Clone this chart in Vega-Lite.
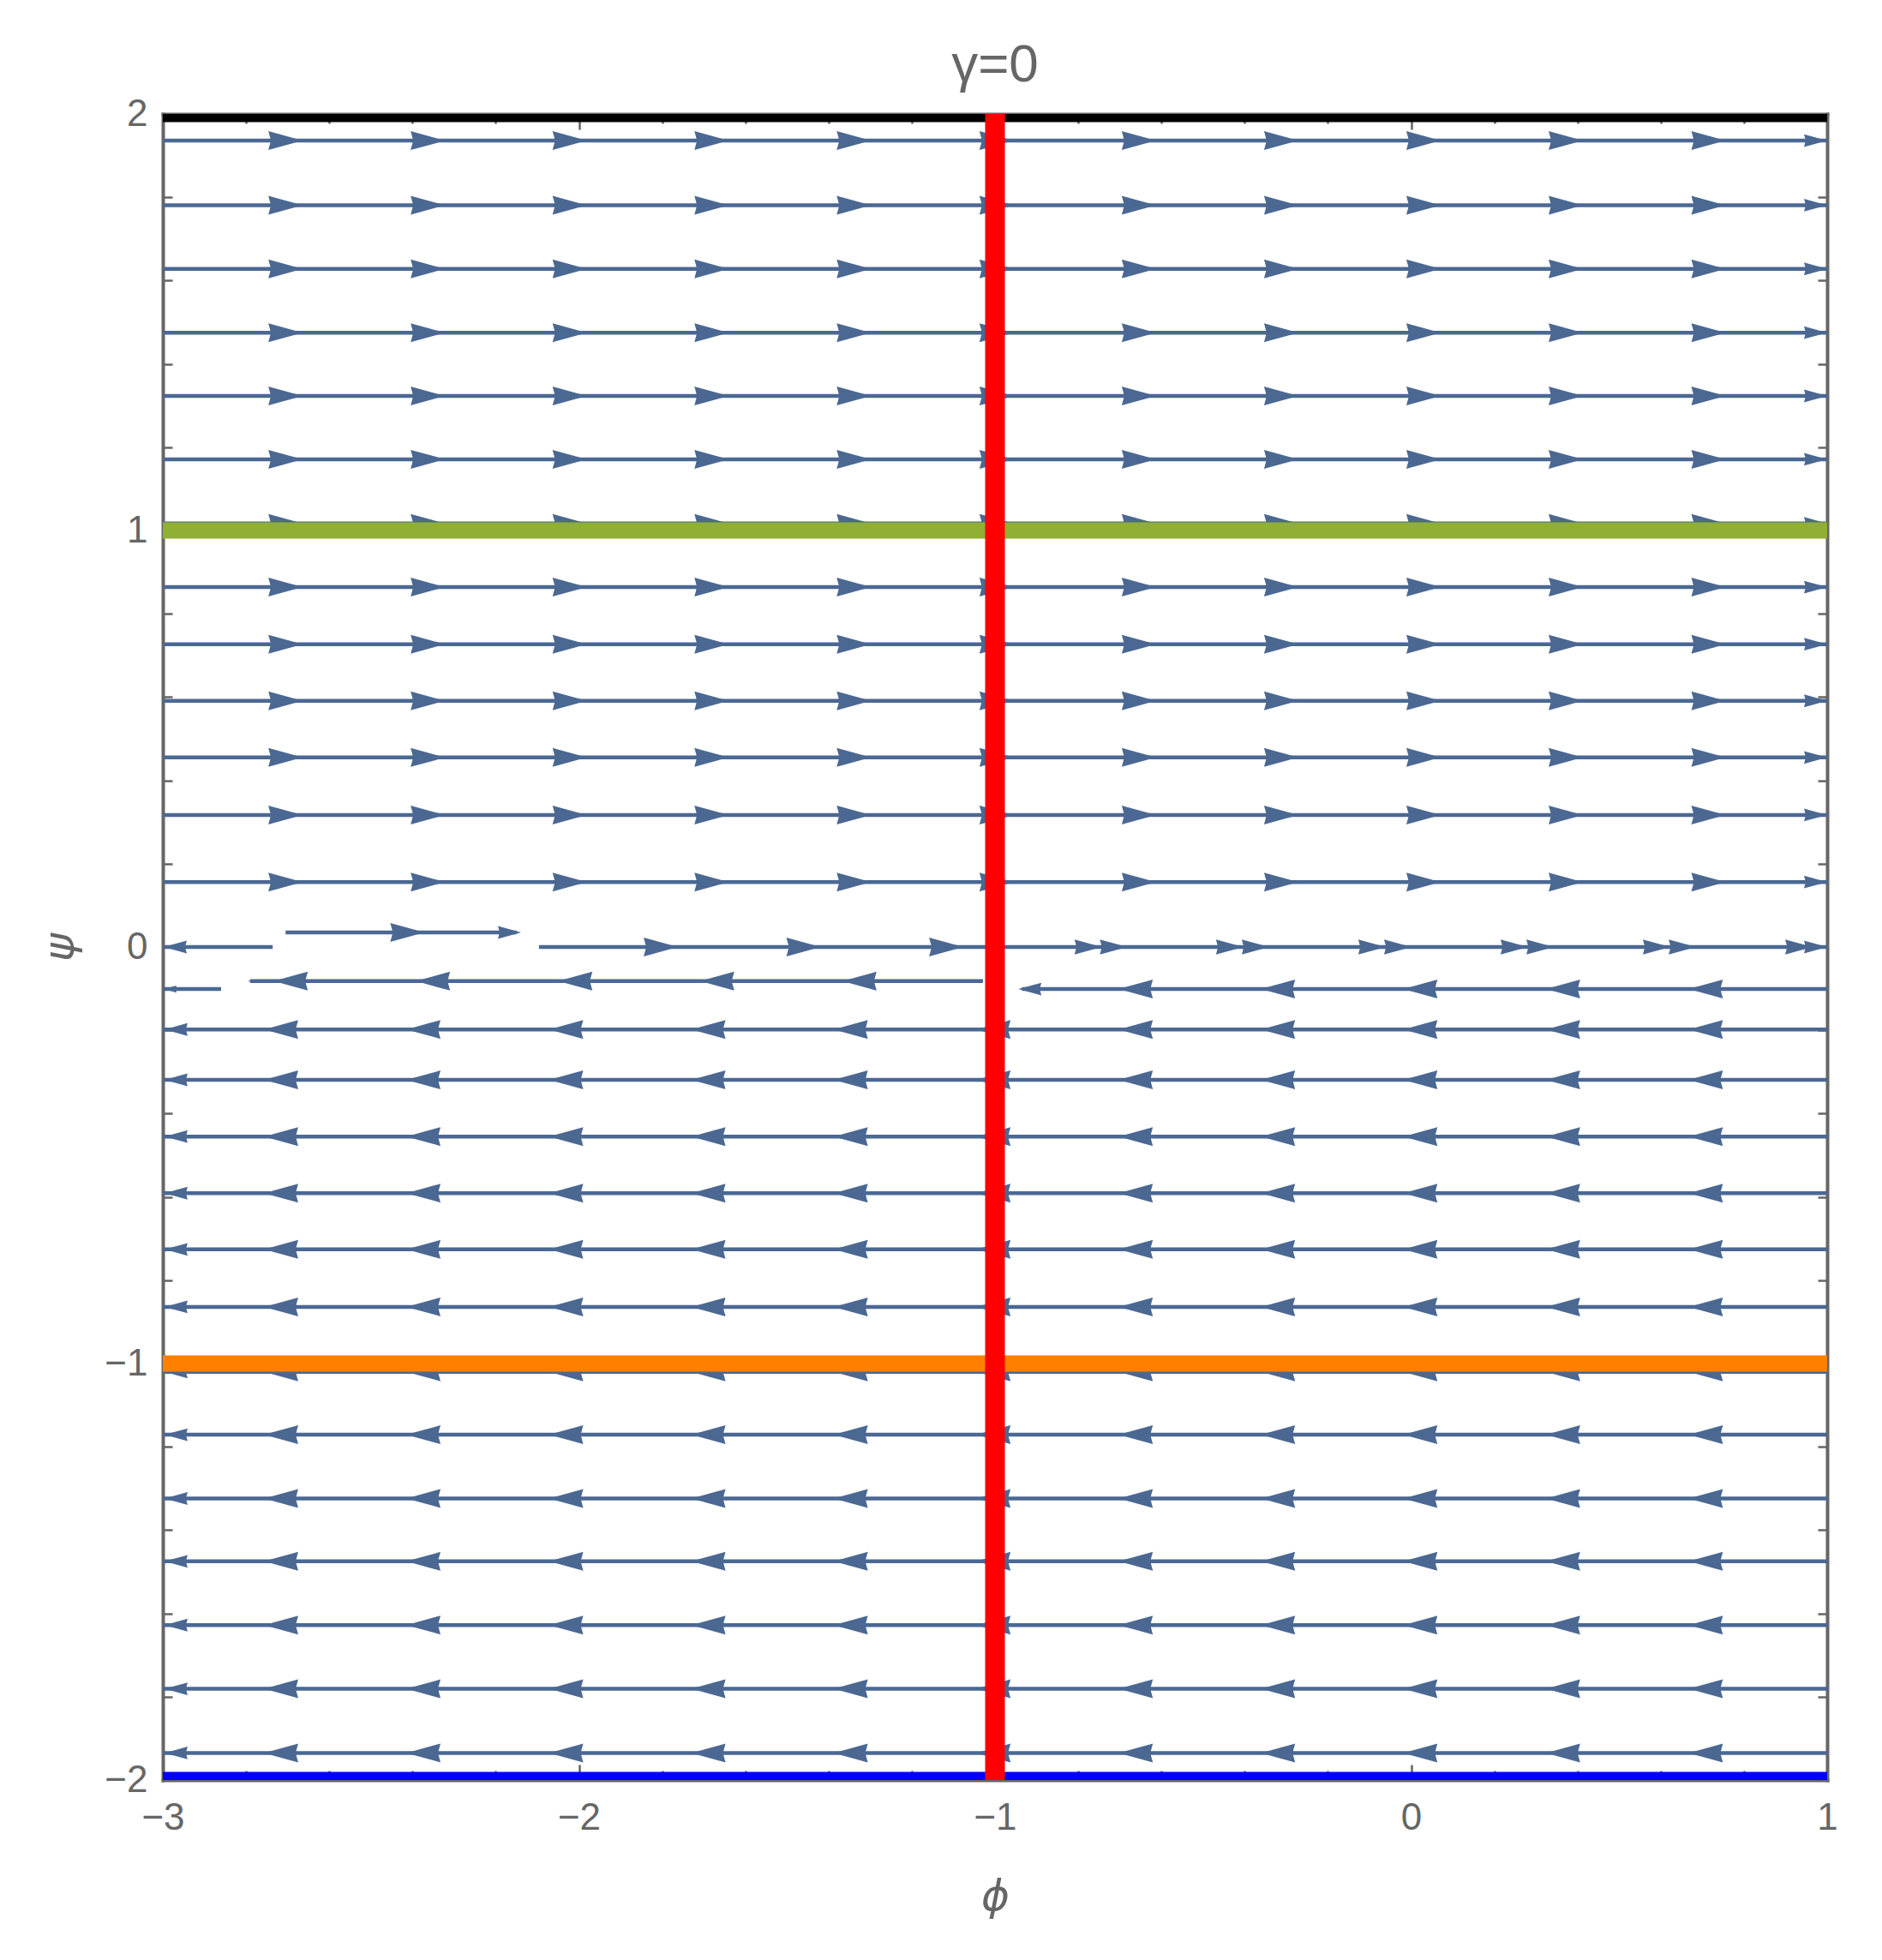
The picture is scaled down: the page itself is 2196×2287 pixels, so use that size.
{
"$schema":"https://vega.github.io/schema/vega-lite/v6.json",
"autosize":"none",
"width":1942,"height":1944,
"padding":{"left":190,"top":133,"right":64,"bottom":210},
"background":"white",
"config":{"view":{"stroke":null},
 "axis":{"domainColor":"#666","domainWidth":4,"domainCap":"square","tickColor":"#666","tickWidth":2.5,"labelFont":"Liberation Sans","labelFontSize":44,"labelColor":"#666","grid":false,"zindex":1,"labelFlush":false,"labelOverlap":false,"titleFont":"DejaVu Sans","titleFontStyle":"italic","titleFontWeight":"normal","titleFontSize":50,"titleColor":"#666"}},
"title":{"text":"γ=0","font":"Liberation Sans","fontSize":62,"color":"#666","fontWeight":"normal","anchor":"middle","baseline":"alphabetic","offset":30,"dy":76},
"datasets":{
"streams":[
{"psi":1.936,"a":-3,"b":1},{"psi":1.781,"a":-3,"b":1},{"psi":1.628,"a":-3,"b":1},{"psi":1.475,"a":-3,"b":1},{"psi":1.323,"a":-3,"b":1},{"psi":1.171,"a":-3,"b":1},{"psi":1.017,"a":-3,"b":1},{"psi":0.864,"a":-3,"b":1},{"psi":0.727,"a":-3,"b":1},{"psi":0.591,"a":-3,"b":1},{"psi":0.455,"a":-3,"b":1},{"psi":0.317,"a":-3,"b":1},{"psi":0.156,"a":-3,"b":1},
{"psi":0.035,"a":-2.705,"b":-2.15},{"psi":0,"a":-2.998,"b":-2.736},{"psi":0,"a":-2.096,"b":1},{"psi":-0.082,"a":-2.79,"b":-1.029},{"psi":-0.101,"a":-2.998,"b":-2.86},{"psi":-0.101,"a":-0.935,"b":1},
{"psi":-0.198,"a":-3,"b":1},{"psi":-0.319,"a":-3,"b":1},{"psi":-0.455,"a":-3,"b":1},{"psi":-0.591,"a":-3,"b":1},{"psi":-0.726,"a":-3,"b":1},{"psi":-0.864,"a":-3,"b":1},{"psi":-1.02,"a":-3,"b":1},{"psi":-1.171,"a":-3,"b":1},{"psi":-1.324,"a":-3,"b":1},{"psi":-1.475,"a":-3,"b":1},{"psi":-1.628,"a":-3,"b":1},{"psi":-1.781,"a":-3,"b":1},{"psi":-1.935,"a":-3,"b":1}
],
"headsRB":[
{"psi":1.936,"phi":-2.664},{"psi":1.936,"phi":-2.322},{"psi":1.936,"phi":-1.981},{"psi":1.936,"phi":-1.64},{"psi":1.936,"phi":-1.298},{"psi":1.936,"phi":-0.955},{"psi":1.936,"phi":-0.613},{"psi":1.936,"phi":-0.271},{"psi":1.936,"phi":0.071},{"psi":1.936,"phi":0.413},{"psi":1.936,"phi":0.756},
{"psi":1.781,"phi":-2.664},{"psi":1.781,"phi":-2.322},{"psi":1.781,"phi":-1.981},{"psi":1.781,"phi":-1.64},{"psi":1.781,"phi":-1.298},{"psi":1.781,"phi":-0.955},{"psi":1.781,"phi":-0.613},{"psi":1.781,"phi":-0.271},{"psi":1.781,"phi":0.071},{"psi":1.781,"phi":0.413},{"psi":1.781,"phi":0.756},
{"psi":1.628,"phi":-2.664},{"psi":1.628,"phi":-2.322},{"psi":1.628,"phi":-1.981},{"psi":1.628,"phi":-1.64},{"psi":1.628,"phi":-1.298},{"psi":1.628,"phi":-0.955},{"psi":1.628,"phi":-0.613},{"psi":1.628,"phi":-0.271},{"psi":1.628,"phi":0.071},{"psi":1.628,"phi":0.413},{"psi":1.628,"phi":0.756},
{"psi":1.475,"phi":-2.664},{"psi":1.475,"phi":-2.322},{"psi":1.475,"phi":-1.981},{"psi":1.475,"phi":-1.64},{"psi":1.475,"phi":-1.298},{"psi":1.475,"phi":-0.955},{"psi":1.475,"phi":-0.613},{"psi":1.475,"phi":-0.271},{"psi":1.475,"phi":0.071},{"psi":1.475,"phi":0.413},{"psi":1.475,"phi":0.756},
{"psi":1.323,"phi":-2.664},{"psi":1.323,"phi":-2.322},{"psi":1.323,"phi":-1.981},{"psi":1.323,"phi":-1.64},{"psi":1.323,"phi":-1.298},{"psi":1.323,"phi":-0.955},{"psi":1.323,"phi":-0.613},{"psi":1.323,"phi":-0.271},{"psi":1.323,"phi":0.071},{"psi":1.323,"phi":0.413},{"psi":1.323,"phi":0.756},
{"psi":1.171,"phi":-2.664},{"psi":1.171,"phi":-2.322},{"psi":1.171,"phi":-1.981},{"psi":1.171,"phi":-1.64},{"psi":1.171,"phi":-1.298},{"psi":1.171,"phi":-0.955},{"psi":1.171,"phi":-0.613},{"psi":1.171,"phi":-0.271},{"psi":1.171,"phi":0.071},{"psi":1.171,"phi":0.413},{"psi":1.171,"phi":0.756},
{"psi":1.017,"phi":-2.664},{"psi":1.017,"phi":-2.322},{"psi":1.017,"phi":-1.981},{"psi":1.017,"phi":-1.64},{"psi":1.017,"phi":-1.298},{"psi":1.017,"phi":-0.955},{"psi":1.017,"phi":-0.613},{"psi":1.017,"phi":-0.271},{"psi":1.017,"phi":0.071},{"psi":1.017,"phi":0.413},{"psi":1.017,"phi":0.756},
{"psi":0.864,"phi":-2.664},{"psi":0.864,"phi":-2.322},{"psi":0.864,"phi":-1.981},{"psi":0.864,"phi":-1.64},{"psi":0.864,"phi":-1.298},{"psi":0.864,"phi":-0.955},{"psi":0.864,"phi":-0.613},{"psi":0.864,"phi":-0.271},{"psi":0.864,"phi":0.071},{"psi":0.864,"phi":0.413},{"psi":0.864,"phi":0.756},
{"psi":0.727,"phi":-2.664},{"psi":0.727,"phi":-2.322},{"psi":0.727,"phi":-1.981},{"psi":0.727,"phi":-1.64},{"psi":0.727,"phi":-1.298},{"psi":0.727,"phi":-0.955},{"psi":0.727,"phi":-0.613},{"psi":0.727,"phi":-0.271},{"psi":0.727,"phi":0.071},{"psi":0.727,"phi":0.413},{"psi":0.727,"phi":0.756},
{"psi":0.591,"phi":-2.664},{"psi":0.591,"phi":-2.322},{"psi":0.591,"phi":-1.981},{"psi":0.591,"phi":-1.64},{"psi":0.591,"phi":-1.298},{"psi":0.591,"phi":-0.955},{"psi":0.591,"phi":-0.613},{"psi":0.591,"phi":-0.271},{"psi":0.591,"phi":0.071},{"psi":0.591,"phi":0.413},{"psi":0.591,"phi":0.756},
{"psi":0.455,"phi":-2.664},{"psi":0.455,"phi":-2.322},{"psi":0.455,"phi":-1.981},{"psi":0.455,"phi":-1.64},{"psi":0.455,"phi":-1.298},{"psi":0.455,"phi":-0.955},{"psi":0.455,"phi":-0.613},{"psi":0.455,"phi":-0.271},{"psi":0.455,"phi":0.071},{"psi":0.455,"phi":0.413},{"psi":0.455,"phi":0.756},
{"psi":0.317,"phi":-2.664},{"psi":0.317,"phi":-2.322},{"psi":0.317,"phi":-1.981},{"psi":0.317,"phi":-1.64},{"psi":0.317,"phi":-1.298},{"psi":0.317,"phi":-0.955},{"psi":0.317,"phi":-0.613},{"psi":0.317,"phi":-0.271},{"psi":0.317,"phi":0.071},{"psi":0.317,"phi":0.413},{"psi":0.317,"phi":0.756},
{"psi":0.156,"phi":-2.664},{"psi":0.156,"phi":-2.322},{"psi":0.156,"phi":-1.981},{"psi":0.156,"phi":-1.64},{"psi":0.156,"phi":-1.298},{"psi":0.156,"phi":-0.955},{"psi":0.156,"phi":-0.613},{"psi":0.156,"phi":-0.271},{"psi":0.156,"phi":0.071},{"psi":0.156,"phi":0.413},{"psi":0.156,"phi":0.756},
{"psi":0.035,"phi":-2.371},
{"psi":0,"phi":-1.762},{"psi":0,"phi":-1.419},{"psi":0,"phi":-1.076}
],
"headsRM":[
{"psi":0,"phi":-0.743},{"psi":0,"phi":-0.682},{"psi":0,"phi":-0.403},{"psi":0,"phi":-0.341},{"psi":0,"phi":-0.061},{"psi":0,"phi":0.001},{"psi":0,"phi":0.281},{"psi":0,"phi":0.343},{"psi":0,"phi":0.623},{"psi":0,"phi":0.685},{"psi":0,"phi":0.965}
],
"headsRS":[
{"psi":1.936,"phi":1},{"psi":1.781,"phi":1},{"psi":1.628,"phi":1},{"psi":1.475,"phi":1},{"psi":1.323,"phi":1},{"psi":1.171,"phi":1},{"psi":1.017,"phi":1},{"psi":0.864,"phi":1},{"psi":0.727,"phi":1},{"psi":0.591,"phi":1},{"psi":0.455,"phi":1},{"psi":0.317,"phi":1},{"psi":0.156,"phi":1},
{"psi":0.035,"phi":-2.139},{"psi":0,"phi":1}
],
"headsLB":[
{"psi":-0.198,"phi":-2.757},{"psi":-0.198,"phi":-2.415},{"psi":-0.198,"phi":-2.072},{"psi":-0.198,"phi":-1.73},{"psi":-0.198,"phi":-1.388},{"psi":-0.198,"phi":-1.045},{"psi":-0.198,"phi":-0.703},{"psi":-0.198,"phi":-0.361},{"psi":-0.198,"phi":-0.019},{"psi":-0.198,"phi":0.324},{"psi":-0.198,"phi":0.667},
{"psi":-0.319,"phi":-2.757},{"psi":-0.319,"phi":-2.415},{"psi":-0.319,"phi":-2.072},{"psi":-0.319,"phi":-1.73},{"psi":-0.319,"phi":-1.388},{"psi":-0.319,"phi":-1.045},{"psi":-0.319,"phi":-0.703},{"psi":-0.319,"phi":-0.361},{"psi":-0.319,"phi":-0.019},{"psi":-0.319,"phi":0.324},{"psi":-0.319,"phi":0.667},
{"psi":-0.455,"phi":-2.757},{"psi":-0.455,"phi":-2.415},{"psi":-0.455,"phi":-2.072},{"psi":-0.455,"phi":-1.73},{"psi":-0.455,"phi":-1.388},{"psi":-0.455,"phi":-1.045},{"psi":-0.455,"phi":-0.703},{"psi":-0.455,"phi":-0.361},{"psi":-0.455,"phi":-0.019},{"psi":-0.455,"phi":0.324},{"psi":-0.455,"phi":0.667},
{"psi":-0.591,"phi":-2.757},{"psi":-0.591,"phi":-2.415},{"psi":-0.591,"phi":-2.072},{"psi":-0.591,"phi":-1.73},{"psi":-0.591,"phi":-1.388},{"psi":-0.591,"phi":-1.045},{"psi":-0.591,"phi":-0.703},{"psi":-0.591,"phi":-0.361},{"psi":-0.591,"phi":-0.019},{"psi":-0.591,"phi":0.324},{"psi":-0.591,"phi":0.667},
{"psi":-0.726,"phi":-2.757},{"psi":-0.726,"phi":-2.415},{"psi":-0.726,"phi":-2.072},{"psi":-0.726,"phi":-1.73},{"psi":-0.726,"phi":-1.388},{"psi":-0.726,"phi":-1.045},{"psi":-0.726,"phi":-0.703},{"psi":-0.726,"phi":-0.361},{"psi":-0.726,"phi":-0.019},{"psi":-0.726,"phi":0.324},{"psi":-0.726,"phi":0.667},
{"psi":-0.864,"phi":-2.757},{"psi":-0.864,"phi":-2.415},{"psi":-0.864,"phi":-2.072},{"psi":-0.864,"phi":-1.73},{"psi":-0.864,"phi":-1.388},{"psi":-0.864,"phi":-1.045},{"psi":-0.864,"phi":-0.703},{"psi":-0.864,"phi":-0.361},{"psi":-0.864,"phi":-0.019},{"psi":-0.864,"phi":0.324},{"psi":-0.864,"phi":0.667},
{"psi":-1.02,"phi":-2.757},{"psi":-1.02,"phi":-2.415},{"psi":-1.02,"phi":-2.072},{"psi":-1.02,"phi":-1.73},{"psi":-1.02,"phi":-1.388},{"psi":-1.02,"phi":-1.045},{"psi":-1.02,"phi":-0.703},{"psi":-1.02,"phi":-0.361},{"psi":-1.02,"phi":-0.019},{"psi":-1.02,"phi":0.324},{"psi":-1.02,"phi":0.667},
{"psi":-1.171,"phi":-2.757},{"psi":-1.171,"phi":-2.415},{"psi":-1.171,"phi":-2.072},{"psi":-1.171,"phi":-1.73},{"psi":-1.171,"phi":-1.388},{"psi":-1.171,"phi":-1.045},{"psi":-1.171,"phi":-0.703},{"psi":-1.171,"phi":-0.361},{"psi":-1.171,"phi":-0.019},{"psi":-1.171,"phi":0.324},{"psi":-1.171,"phi":0.667},
{"psi":-1.324,"phi":-2.757},{"psi":-1.324,"phi":-2.415},{"psi":-1.324,"phi":-2.072},{"psi":-1.324,"phi":-1.73},{"psi":-1.324,"phi":-1.388},{"psi":-1.324,"phi":-1.045},{"psi":-1.324,"phi":-0.703},{"psi":-1.324,"phi":-0.361},{"psi":-1.324,"phi":-0.019},{"psi":-1.324,"phi":0.324},{"psi":-1.324,"phi":0.667},
{"psi":-1.475,"phi":-2.757},{"psi":-1.475,"phi":-2.415},{"psi":-1.475,"phi":-2.072},{"psi":-1.475,"phi":-1.73},{"psi":-1.475,"phi":-1.388},{"psi":-1.475,"phi":-1.045},{"psi":-1.475,"phi":-0.703},{"psi":-1.475,"phi":-0.361},{"psi":-1.475,"phi":-0.019},{"psi":-1.475,"phi":0.324},{"psi":-1.475,"phi":0.667},
{"psi":-1.628,"phi":-2.757},{"psi":-1.628,"phi":-2.415},{"psi":-1.628,"phi":-2.072},{"psi":-1.628,"phi":-1.73},{"psi":-1.628,"phi":-1.388},{"psi":-1.628,"phi":-1.045},{"psi":-1.628,"phi":-0.703},{"psi":-1.628,"phi":-0.361},{"psi":-1.628,"phi":-0.019},{"psi":-1.628,"phi":0.324},{"psi":-1.628,"phi":0.667},
{"psi":-1.781,"phi":-2.757},{"psi":-1.781,"phi":-2.415},{"psi":-1.781,"phi":-2.072},{"psi":-1.781,"phi":-1.73},{"psi":-1.781,"phi":-1.388},{"psi":-1.781,"phi":-1.045},{"psi":-1.781,"phi":-0.703},{"psi":-1.781,"phi":-0.361},{"psi":-1.781,"phi":-0.019},{"psi":-1.781,"phi":0.324},{"psi":-1.781,"phi":0.667},
{"psi":-1.935,"phi":-2.757},{"psi":-1.935,"phi":-2.415},{"psi":-1.935,"phi":-2.072},{"psi":-1.935,"phi":-1.73},{"psi":-1.935,"phi":-1.388},{"psi":-1.935,"phi":-1.045},{"psi":-1.935,"phi":-0.703},{"psi":-1.935,"phi":-0.361},{"psi":-1.935,"phi":-0.019},{"psi":-1.935,"phi":0.324},{"psi":-1.935,"phi":0.667},
{"psi":-0.082,"phi":-2.734},{"psi":-0.082,"phi":-2.392},{"psi":-0.082,"phi":-2.05},{"psi":-0.082,"phi":-1.709},{"psi":-0.082,"phi":-1.367},
{"psi":-0.101,"phi":-0.703},{"psi":-0.101,"phi":-0.361},{"psi":-0.101,"phi":-0.019},{"psi":-0.101,"phi":0.324},{"psi":-0.101,"phi":0.667}
],
"headsLS":[
{"psi":-0.198,"phi":-2.996},{"psi":-0.319,"phi":-2.996},{"psi":-0.455,"phi":-2.996},{"psi":-0.591,"phi":-2.996},{"psi":-0.726,"phi":-2.996},{"psi":-0.864,"phi":-2.996},{"psi":-1.02,"phi":-2.996},{"psi":-1.171,"phi":-2.996},{"psi":-1.324,"phi":-2.996},{"psi":-1.475,"phi":-2.996},{"psi":-1.628,"phi":-2.996},{"psi":-1.781,"phi":-2.996},{"psi":-1.935,"phi":-2.996},
{"psi":0,"phi":-2.998},{"psi":-0.101,"phi":-0.944}
],
"headsLT":[{"psi":-0.101,"phi":-2.998}],
"headsLX":[{"psi":-0.082,"phi":-2.796}],
"levels":[{"psi":2,"a":-3,"b":1,"curve":"k"},{"psi":-2,"a":-3,"b":1,"curve":"b"},{"psi":1,"a":-3,"b":1,"curve":"g"},{"psi":-1,"a":-3,"b":1,"curve":"o"}],
"vert":[{"phi":-1,"p0":-2,"p1":2}]
},
"resolve":{"axis":{"x":"independent","y":"independent"}},
"layer":[
{"data":{"name":"streams"},"mark":{"type":"rule","color":"#4b6893","strokeWidth":4.5,"strokeCap":"butt"},
 "encoding":{
  "x":{"field":"a","type":"quantitative","scale":{"domain":[-3,1],"nice":false,"zero":false},
   "axis":{"orient":"bottom","values":[-3,-2.8,-2.6,-2.4,-2.2,-2,-1.8,-1.6,-1.4,-1.2,-1,-0.8,-0.6,-0.4,-0.2,0,0.2,0.4,0.6,0.8,1],
    "labelExpr":"datum.value % 1 === 0 ? format(datum.value, 'd') : ''",
    "tickSize":{"condition":{"test":"datum.value % 1 === 0","value":-18},"value":-11},
    "labelPadding":40,"title":"ϕ","titleX":971,"titleY":151,"titleAngle":0,"titleBaseline":"alphabetic","titleAlign":"center"}},
  "x2":{"field":"b"},
  "y":{"field":"psi","type":"quantitative","scale":{"domain":[-2,2],"nice":false,"zero":false},
   "axis":{"orient":"left","values":[-2,-1.8,-1.6,-1.4,-1.2,-1,-0.8,-0.6,-0.4,-0.2,0,0.2,0.4,0.6,0.8,1,1.2,1.4,1.6,1.8,2],
    "labelExpr":"datum.value % 1 === 0 ? format(datum.value, 'd') : ''",
    "tickSize":{"condition":{"test":"datum.value % 1 === 0","value":-18},"value":-11},
    "labelPadding":36,"title":"ψ","titleX":-105,"titleY":972,"titleAngle":-90,"titleBaseline":"alphabetic","titleAlign":"center"}}
 }},
{"data":{"name":"headsRB"},"mark":{"type":"point","filled":true,"opacity":1,"color":"#4b6893","strokeWidth":0,"size":1600,"shape":"M0,0L-2,-0.55L-1.85,0L-2,0.55Z"},
 "encoding":{"x":{"field":"phi","type":"quantitative","scale":{"domain":[-3,1],"nice":false,"zero":false},"axis":null},"y":{"field":"psi","type":"quantitative","scale":{"domain":[-2,2],"nice":false,"zero":false},"axis":null}}},
{"data":{"name":"headsRM"},"mark":{"type":"point","filled":true,"opacity":1,"color":"#4b6893","strokeWidth":0,"size":1024,"shape":"M0,0L-2,-0.55L-1.85,0L-2,0.55Z"},
 "encoding":{"x":{"field":"phi","type":"quantitative","scale":{"domain":[-3,1],"nice":false,"zero":false},"axis":null},"y":{"field":"psi","type":"quantitative","scale":{"domain":[-2,2],"nice":false,"zero":false},"axis":null}}},
{"data":{"name":"headsRS"},"mark":{"type":"point","filled":true,"opacity":1,"color":"#4b6893","strokeWidth":0,"size":729,"shape":"M0,0L-2,-0.55L-1.85,0L-2,0.55Z"},
 "encoding":{"x":{"field":"phi","type":"quantitative","scale":{"domain":[-3,1],"nice":false,"zero":false},"axis":null},"y":{"field":"psi","type":"quantitative","scale":{"domain":[-2,2],"nice":false,"zero":false},"axis":null}}},
{"data":{"name":"headsLB"},"mark":{"type":"point","filled":true,"opacity":1,"color":"#4b6893","strokeWidth":0,"size":1600,"shape":"M0,0L2,-0.55L1.85,0L2,0.55Z"},
 "encoding":{"x":{"field":"phi","type":"quantitative","scale":{"domain":[-3,1],"nice":false,"zero":false},"axis":null},"y":{"field":"psi","type":"quantitative","scale":{"domain":[-2,2],"nice":false,"zero":false},"axis":null}}},
{"data":{"name":"headsLS"},"mark":{"type":"point","filled":true,"opacity":1,"color":"#4b6893","strokeWidth":0,"size":729,"shape":"M0,0L2,-0.55L1.85,0L2,0.55Z"},
 "encoding":{"x":{"field":"phi","type":"quantitative","scale":{"domain":[-3,1],"nice":false,"zero":false},"axis":null},"y":{"field":"psi","type":"quantitative","scale":{"domain":[-2,2],"nice":false,"zero":false},"axis":null}}},
{"data":{"name":"headsLT"},"mark":{"type":"point","filled":true,"opacity":1,"color":"#4b6893","strokeWidth":0,"size":225,"shape":"M0,0L2,-0.55L1.85,0L2,0.55Z"},
 "encoding":{"x":{"field":"phi","type":"quantitative","scale":{"domain":[-3,1],"nice":false,"zero":false},"axis":null},"y":{"field":"psi","type":"quantitative","scale":{"domain":[-2,2],"nice":false,"zero":false},"axis":null}}},
{"data":{"name":"headsLX"},"mark":{"type":"point","filled":true,"opacity":1,"color":"#4b6893","strokeWidth":0,"size":49,"shape":"M0,0L2,-0.55L1.85,0L2,0.55Z"},
 "encoding":{"x":{"field":"phi","type":"quantitative","scale":{"domain":[-3,1],"nice":false,"zero":false},"axis":null},"y":{"field":"psi","type":"quantitative","scale":{"domain":[-2,2],"nice":false,"zero":false},"axis":null}}},
{"data":{"name":"levels"},"mark":{"type":"rule","strokeWidth":19,"strokeCap":"butt","clip":true},
 "encoding":{"x":{"field":"a","type":"quantitative","scale":{"domain":[-3,1],"nice":false,"zero":false},"axis":null},"x2":{"field":"b"},
  "y":{"field":"psi","type":"quantitative","scale":{"domain":[-2,2],"nice":false,"zero":false},"axis":null},
  "color":{"field":"curve","type":"nominal","scale":{"domain":["k","b","g","o"],"range":["#000000","#0000ff","#8fb032","#ff8000"]},"legend":null}}},
{"data":{"name":"vert"},"mark":{"type":"rule","strokeWidth":23,"strokeCap":"butt","color":"#ff0000","clip":true},
 "encoding":{
  "x":{"field":"phi","type":"quantitative","scale":{"domain":[-3,1],"nice":false,"zero":false},
   "axis":{"orient":"top","values":[-3,-2.8,-2.6,-2.4,-2.2,-2,-1.8,-1.6,-1.4,-1.2,-1,-0.8,-0.6,-0.4,-0.2,0,0.2,0.4,0.6,0.8,1],"labels":false,"title":null,
    "tickSize":{"condition":{"test":"datum.value % 1 === 0","value":-18},"value":-11}}},
  "y":{"field":"p0","type":"quantitative","scale":{"domain":[-2,2],"nice":false,"zero":false},
   "axis":{"orient":"right","values":[-2,-1.8,-1.6,-1.4,-1.2,-1,-0.8,-0.6,-0.4,-0.2,0,0.2,0.4,0.6,0.8,1,1.2,1.4,1.6,1.8,2],"labels":false,"title":null,
    "tickSize":{"condition":{"test":"datum.value % 1 === 0","value":-18},"value":-11}}},
  "y2":{"field":"p1"}
 }}
]
}
